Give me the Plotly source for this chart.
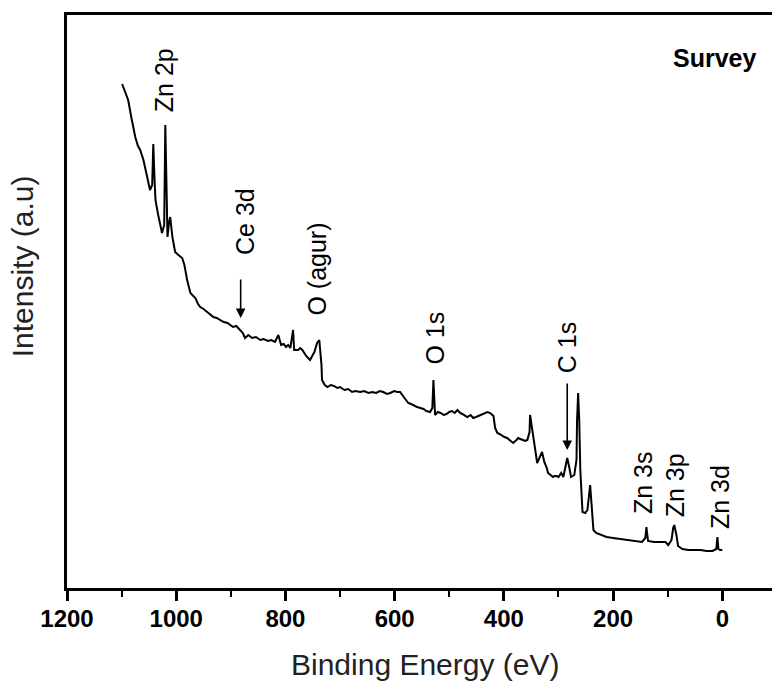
import plotly.graph_objects as go

# Binding energy (eV) and intensity (arbitrary units)
binding_energy = [1099, 1093, 1088, 1082, 1075, 1070, 1066, 1060, 1055, 1051, 1048, 1044, 1042, 1040, 1038,
                  1033, 1026, 1022, 1020, 1018, 1016, 1013, 1011, 1007, 1002, 996, 989, 985, 980, 974,
                  968, 965, 960, 956, 950, 943, 937, 932, 926, 919, 913, 906, 900, 896, 890, 883, 878,
                  874, 868, 861, 854, 846, 840, 832, 826, 819, 813, 808, 803, 799, 795, 791, 786, 784,
                  777, 773, 769, 762, 755, 751, 747, 742, 738, 734, 733, 728, 723, 717, 711, 705, 700,
                  692, 685, 678, 672, 663, 656, 648, 641, 634, 627, 621, 614, 608, 601, 595, 590, 582,
                  575, 570, 564, 559, 553, 547, 542, 535, 531, 529, 526, 521, 516, 510, 505, 500, 495,
                  490, 485, 480, 476, 471, 467, 461, 456, 451, 447, 441, 436, 430, 425, 419, 416, 412,
                  408, 403, 399, 394, 388, 383, 377, 374, 370, 366, 361, 357, 353, 352, 348, 346, 342,
                  339, 335, 330, 326, 322, 319, 315, 310, 307, 304, 300, 295, 291, 288, 284, 280, 277,
                  271, 267, 266, 264, 262, 260, 256, 251, 247, 244, 242, 240, 236, 231, 223, 212, 200,
                  187, 172, 159, 147, 141, 139, 136, 125, 114, 104, 99, 93, 90, 88, 84, 81, 73, 62,
                  51, 40, 29, 18, 11, 9, 7, 4, 0]
intensity = [504, 494, 488, 470, 451, 442, 438, 428, 416, 408, 398, 403, 444, 413, 388,
             373, 355, 363, 463, 408, 351, 366, 371, 351, 336, 333, 330, 323, 308, 295,
             292, 290, 284, 281, 279, 276, 274, 271, 270, 268, 266, 265, 263, 261, 262, 258, 255,
             250, 253, 250, 251, 248, 249, 247, 248, 246, 253, 243, 244, 241, 243, 240, 258, 238,
             238, 240, 238, 232, 228, 232, 236, 245, 248, 223, 208, 203, 201, 203, 202, 200, 201,
             198, 199, 196, 197, 196, 197, 195, 196, 195, 197, 196, 194, 195, 197, 196, 196, 190,
             185, 184, 182, 181, 180, 179, 177, 176, 180, 208, 173, 176, 175, 173, 174, 176, 177,
             175, 178, 175, 174, 172, 171, 173, 170, 171, 172, 174, 175, 176, 175, 172, 160, 155,
             154, 152, 151, 150, 147, 145, 148, 150, 149, 148, 147, 148, 156, 173, 158, 151, 136,
             125, 130, 136, 126, 121, 115, 113, 111, 112, 112, 111, 115, 111, 118, 130, 120, 111,
             113, 128, 168, 195, 168, 118, 76, 75, 78, 98, 103, 88, 58, 55, 53, 51, 50,
             49, 48, 47, 46, 50, 61, 47, 46, 46, 46, 43, 48, 60, 63, 53, 42, 39, 38,
             38, 38, 37, 37, 39, 51, 39, 38, 38]

# Peak labels: text, energy position, intensity position of label centre
label_text = ["Zn 2p", "Ce 3d", "O (agur)", "O 1s", "C 1s", "Zn 3s", "Zn 3p", "Zn 3d"]
label_be = [1022, 874, 743, 527, 284, 145, 86, 4]
label_int = [508, 366, 319, 250, 240, 105, 103, 91]

fig = go.Figure()
fig.add_trace(go.Scatter(x=binding_energy, y=intensity, mode="lines",
                         line=dict(color="black", width=2), showlegend=False,
                         hoverinfo="skip"))

font_family = "Liberation Sans, Arial, sans-serif"

for t, xv, yv in zip(label_text, label_be, label_int):
    fig.add_annotation(x=xv, y=yv, xref="x", yref="y", text=t, textangle=-90,
                       showarrow=False, font=dict(family=font_family, size=25, color="black"),
                       xanchor="center", yanchor="middle")

# Arrows for Ce 3d and C 1s
arrow_be = [882, 284]
arrow_tip = [270, 138]
arrow_tail = [310, 206]
for xv, tip, tail in zip(arrow_be, arrow_tip, arrow_tail):
    fig.add_annotation(x=xv, y=tip, ax=xv, ay=tail, xref="x", yref="y", axref="x", ayref="y",
                       text="", showarrow=True, arrowhead=2, arrowsize=1.2, arrowwidth=1.6,
                       arrowcolor="black")

fig.add_annotation(x=0.919, y=0.925, xref="paper", yref="paper", text="<b>Survey</b>",
                   showarrow=False, font=dict(family=font_family, size=25, color="black"),
                   xanchor="center", yanchor="middle")

fig.add_annotation(x=0.508, y=-0.134, xref="paper", yref="paper", text="Binding Energy (eV)",
                   showarrow=False, font=dict(family=font_family, size=30, color="#222"),
                   xanchor="center", yanchor="middle")
fig.add_annotation(x=-0.062, y=0.562, xref="paper", yref="paper", text="Intensity (a.u)",
                   textangle=-90, showarrow=False,
                   font=dict(family=font_family, size=30, color="#222"),
                   xanchor="center", yanchor="middle")

fig.update_layout(
    width=772, height=686,
    margin=dict(l=67, r=0, t=15, b=98),
    paper_bgcolor="white", plot_bgcolor="white",
    xaxis=dict(range=[1200, -91], tickmode="linear", tick0=0, dtick=200,
               showgrid=False, zeroline=False, showline=True, linecolor="black", linewidth=3,
               mirror=True, ticks="outside", ticklen=10, tickwidth=3, tickcolor="black",
               ticklabelstandoff=-3,
               tickfont=dict(family=font_family, size=24, color="black", weight="bold"),
               minor=dict(dtick=100, ticks="outside", ticklen=6, tickwidth=2, tickcolor="black")),
    yaxis=dict(range=[0, 573], showgrid=False, zeroline=False, showline=True,
               linecolor="black", linewidth=3, mirror=False, ticks="", showticklabels=False),
)

fig.write_html("out.html", config={"displayModeBar": False},
               post_script="document.body.style.margin='0';document.body.style.overflow='hidden';")
